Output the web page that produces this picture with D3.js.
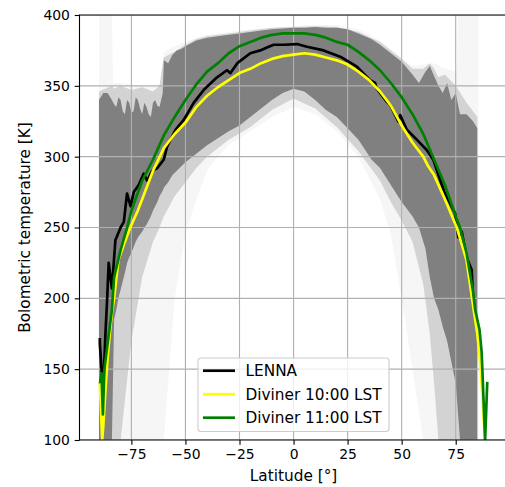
<!DOCTYPE html>
<html>
<head>
<meta charset="utf-8">
<script src="https://cdn.jsdelivr.net/npm/d3@7"></script>
<style>
  body { margin: 0; background: #fff; }
  text { font-family: "DejaVu Sans", sans-serif; }
</style>
</head>
<body>
<div id="chart"></div>
<script>
const width = 505;
const height = 487;

// LENNA measured profile
const lennaLat = [-89.6, -89.6, -88.8, -88, -87, -86.2, -85.5, -84, -82.4, -80, -78.5, -77, -75.4, -73.9, -71.6, -69.3, -67.7, -65.4, -63, -60,
  -58.5, -54.6, -50.8, -46.2, -41.6, -35.4, -30.8, -29.2, -26, -20, -15.4, -12.3, -9.2, -4.6, 1.6, 6.2, 13.9, 21.6, 29.3, 35.4,
  37.7, 38.5, 43, 44.7, 48.5, 49.3, 52.4, 57, 61.6, 64.7, 67.8, 70, 72.4, 74.7, 76.2, 77.8, 80, 82.4, 83.1];
const lennaT = [172, 168, 150, 135, 175, 200, 225, 207, 241, 250, 254, 274, 265, 275, 280, 288, 283, 290, 292, 298,
  307, 319, 326, 338, 347, 356, 361, 359, 366, 373, 375, 377, 379, 379, 379.5, 377.6, 375, 370.6, 363.5, 354,
  352, 348, 339, 336.5, 324.7, 329.4, 319, 312, 304.7, 297.6, 283.5, 274, 267, 260, 243, 247, 229, 220, 195];

// Diviner 10:00 LST
const div10Lat = [-89.6, -88.5, -88, -87, -86, -85, -84, -83, -81, -78, -75.5, -72, -69, -65, -62.5, -60, -55, -50, -45, -40,
  -35, -30, -25, -20, -15, -10, -5, 0, 5, 10, 15, 20, 25, 30, 35, 40, 45, 50, 55, 60,
  62, 65, 70, 75.5, 80, 83, 85, 86, 87, 88.5];
const div10T = [141, 100, 110, 135, 158, 175, 190, 200, 227, 240, 250, 262, 274, 290, 298, 306, 316, 324, 335, 343,
  349, 354, 359, 362, 366, 369, 371, 372, 373, 372, 370, 368, 365, 360, 354, 346, 336, 322, 310, 300,
  294, 287, 270, 250, 227, 195, 175, 160, 140, 100];

// Diviner 11:00 LST
const div11Lat = [-89.5, -88.8, -88.2, -87.5, -86, -85, -84, -83, -80, -77, -75, -70, -65, -60, -55, -50, -45, -40, -35, -30,
  -25, -20, -15, -10, -5, 0, 5, 10, 15, 20, 25, 30, 35, 40, 45, 50, 55, 60, 65, 70,
  75, 77, 80, 83, 84, 86, 87, 88.6, 89.6];
const div11T = [140, 147, 118, 150, 168, 180, 192, 215, 234, 250, 262, 283, 298, 315, 328, 340, 351, 360, 366, 373,
  378, 381, 384, 386, 387, 387, 387, 386, 384, 381, 379, 374, 368, 361, 352, 342, 330, 316, 298, 280,
  258, 250, 232, 205, 192, 178, 162, 100, 141];

// dense part of the observation cloud
const cloudLat = [-90, -88, -86, -84, -83, -82, -81, -80, -79, -78, -77, -76, -75, -74, -73, -72, -71, -70, -69, -68,
  -67, -66, -65, -64, -63, -62, -60.5, -60, -58, -56, -54, -52, -50, -45, -40, -35, -30, -25, -20, -15,
  -10, -5, 0, 5, 10, 15, 20, 25, 30, 33, 36, 40, 45, 50, 55, 58, 61, 63, 65, 67,
  69, 71, 73, 75, 77, 80, 83, 85];
const cloudHigh = [340, 345, 345, 340, 337, 335, 342, 340, 332, 330, 340, 338, 331, 332, 342, 340, 334, 330, 338, 335,
  330, 328, 338, 340, 336, 335, 345, 368, 366, 372, 375, 376, 378, 382, 384, 385, 386, 387, 388, 389,
  390, 390.5, 391, 391, 391.5, 391, 391, 390, 387, 385, 383, 379, 373, 367, 358, 352, 360, 364, 357, 350,
  345, 352, 340, 345, 330, 330, 325, 320];
const cloudLow = [100, 100, 100, 100, 185, 192, 200, 206, 212, 218, 225, 229, 232, 236, 240, 243, 245, 247, 250, 252,
  255, 258, 262, 265, 268, 272, 276, 278, 282, 287, 290, 293, 296, 302, 308, 313, 318, 322, 328, 334,
  340, 345, 348, 346, 340, 333, 328, 320, 312, 305, 298, 292, 280, 268, 258, 250, 235, 215, 200, 192,
  180, 170, 155, 140, 100, 100, 100, 100];

// streaky transition round the dense part
const midLat = [-90, -84, -83, -80, -75, -70, -65, -62, -60, -55, -50, -45, -40, -35, -30, -20, -10, 0, 10, 20,
  30, 40, 45, 50, 55, 60, 63, 65, 67, 70, 75, 80, 85];
const midHigh = [346, 350, 348, 350, 347, 349, 346, 350, 370, 374, 379, 383, 385, 386, 387, 389, 391, 391.5, 392, 391.5,
  388, 381, 375, 369, 362, 362, 366, 362, 356, 358, 350, 338, 328];
const midLow = [100, 100, 100, 100, 170, 215, 240, 250, 258, 272, 282, 292, 300, 306, 312, 321, 333, 341, 334, 321,
  304, 283, 268, 255, 240, 210, 175, 140, 100, 100, 100, 100, 100];

// sparse outskirts of the cloud
const faintLat = [-90, -84, -83.5, -80, -70, -62, -60, -55, -50, -45, -40, -35, -30, -20, -10, 0, 10, 20, 30, 40,
  45, 50, 55, 60, 65, 70, 75.5, 76, 85, 85.5];
const faintHigh = [400, 400, 352, 352, 350, 350, 374, 378, 381, 384, 386, 387, 388, 390, 391, 392, 393, 393, 390, 382,
  376, 370, 364, 365, 366, 362, 360, 400, 400, 400];
const faintLow = [100, 100, 100, 100, 100, 100, 100, 200, 245, 270, 290, 300, 308, 318, 328, 335, 330, 318, 300, 270,
  245, 200, 150, 100, 100, 100, 100, 100, 100, 100];

const xTicks = [-75, -50, -25, 0, 25, 50, 75];
const yTicks = [100, 150, 200, 250, 300, 350, 400];

const series = [
  { name: "LENNA", lat: lennaLat, t: lennaT, color: "#000000" },
  { name: "Diviner 10:00 LST", lat: div10Lat, t: div10T, color: "#ffff00" },
  { name: "Diviner 11:00 LST", lat: div11Lat, t: div11T, color: "#008000" }
];

const plotLeft = 79.5, plotTop = 15, plotBottom = 440, plotRight = 507.6;

const x = d3.scaleLinear().domain([-99, 99]).range([plotLeft, plotRight]);
const y = d3.scaleLinear().domain([100, 400]).range([plotBottom, plotTop]);

const svg = d3.select("#chart").append("svg")
  .attr("width", width)
  .attr("height", height);

svg.append("defs").append("clipPath")
  .attr("id", "plot-clip")
  .append("rect")
  .attr("x", plotLeft)
  .attr("y", plotTop)
  .attr("width", plotRight - plotLeft)
  .attr("height", plotBottom - plotTop);

const plot = svg.append("g").attr("clip-path", "url(#plot-clip)");

// cloud of individual observations, drawn as three density layers
const toBand = (lat, hi, lo) => lat.map((d, i) => ({ lat: d, hi: hi[i], lo: lo[i] }));

const band = d3.area()
  .x(d => x(d.lat))
  .y0(d => y(d.lo))
  .y1(d => y(d.hi));

const layers = [
  { data: toBand(faintLat, faintHigh, faintLow), opacity: 0.07 },
  { data: toBand(midLat, midHigh, midLow), opacity: 0.3 },
  { data: toBand(cloudLat, cloudHigh, cloudLow), opacity: 1 }
];

plot.selectAll(".cloud")
  .data(layers)
  .enter().append("path")
  .attr("class", "cloud")
  .attr("d", d => band(d.data))
  .attr("fill", "#808080")
  .attr("fill-opacity", d => d.opacity);

// grid
const grid = plot.append("g")
  .attr("stroke", "#b0b0b0")
  .attr("stroke-width", 1.1);

grid.selectAll(".gx")
  .data(xTicks)
  .enter().append("line")
  .attr("x1", d => x(d)).attr("x2", d => x(d))
  .attr("y1", plotTop).attr("y2", plotBottom);

grid.selectAll(".gy")
  .data(yTicks)
  .enter().append("line")
  .attr("x1", plotLeft).attr("x2", plotRight)
  .attr("y1", d => y(d)).attr("y2", d => y(d));

// profiles
const line = d3.line()
  .x(d => x(d[0]))
  .y(d => y(d[1]));

plot.selectAll(".profile")
  .data(series)
  .enter().append("path")
  .attr("class", "profile")
  .attr("d", s => line(s.lat.map((d, i) => [d, s.t[i]])))
  .attr("fill", "none")
  .attr("stroke", s => s.color)
  .attr("stroke-width", 2.7)
  .attr("stroke-linejoin", "round");

// axes
const xAxis = svg.append("g")
  .attr("transform", `translate(0,${plotBottom})`)
  .call(d3.axisBottom(x).tickValues(xTicks).tickSize(4.8).tickPadding(4.5)
    .tickFormat(d => d < 0 ? "\u2212" + Math.abs(d) : d));

const yAxis = svg.append("g")
  .attr("transform", `translate(${plotLeft},0)`)
  .call(d3.axisLeft(y).tickValues(yTicks).tickSize(4.8).tickPadding(4.8));

[xAxis, yAxis].forEach(a => {
  a.select(".domain").remove();
  a.selectAll(".tick line").attr("stroke", "#000").attr("stroke-width", 1.1);
  a.selectAll(".tick text")
    .attr("fill", "#000")
    .style("font-family", "DejaVu Sans")
    .style("font-size", "13.9px");
});

// spines
svg.append("line")
  .attr("x1", plotLeft).attr("x2", plotLeft)
  .attr("y1", plotTop - 0.5).attr("y2", plotBottom + 0.5)
  .attr("stroke", "#000").attr("stroke-width", 1.1);
svg.append("line")
  .attr("x1", plotLeft).attr("x2", plotRight)
  .attr("y1", plotBottom).attr("y2", plotBottom)
  .attr("stroke", "#000").attr("stroke-width", 1.1);
svg.append("line")
  .attr("x1", plotLeft).attr("x2", plotRight)
  .attr("y1", plotTop).attr("y2", plotTop)
  .attr("stroke", "#000").attr("stroke-width", 1.1);

// axis labels
svg.append("text")
  .attr("x", x(0))
  .attr("y", 481)
  .attr("text-anchor", "middle")
  .style("font-size", "15.3px")
  .text("Latitude [°]");

svg.append("text")
  .attr("transform", `translate(29.5,${(plotTop + plotBottom) / 2}) rotate(-90)`)
  .attr("text-anchor", "middle")
  .style("font-size", "15.3px")
  .text("Bolometric temperature [K]");

// legend
const legend = svg.append("g").attr("transform", "translate(198,358)");

legend.append("rect")
  .attr("width", 191)
  .attr("height", 73.5)
  .attr("rx", 3)
  .attr("fill", "#fff")
  .attr("fill-opacity", 0.8)
  .attr("stroke", "#cccccc")
  .attr("stroke-width", 1.1);

const entry = legend.selectAll(".entry")
  .data(series)
  .enter().append("g")
  .attr("transform", (d, i) => `translate(0,${12.7 + i * 23.5})`);

entry.append("line")
  .attr("x1", 5).attr("x2", 37)
  .attr("stroke", d => d.color)
  .attr("stroke-width", 2.7);

entry.append("text")
  .attr("x", 47.5)
  .attr("dy", "0.36em")
  .style("font-size", "15.3px")
  .text(d => d.name);
</script>
</body>
</html>
